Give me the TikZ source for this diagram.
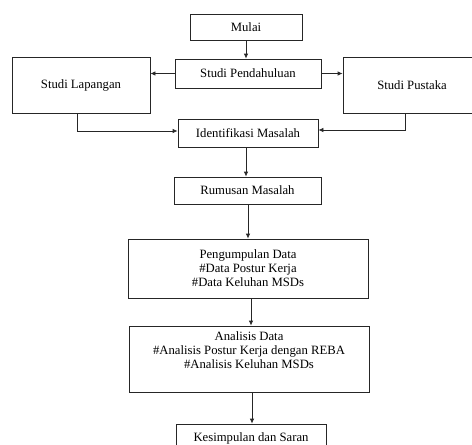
\documentclass[tikz,border=0pt]{standalone}
\usepackage{fontspec}
\setmainfont{Liberation Serif}
\usetikzlibrary{arrows.meta}
\begin{document}
\begin{tikzpicture}[x=1pt,y=-1pt,
  box/.style={draw=black!85,line width=0.8pt,rectangle,inner sep=0pt,align=center,
    font=\fontsize{12.7}{14}\selectfont},
  arr/.style={draw=black!85,line width=0.8pt,-{Latex[length=5pt,width=4.5pt]}}]
\useasboundingbox (0,0) rectangle (472,445);
\clip (0,0) rectangle (472,445);
\fill[white] (0,0) rectangle (472,445);
\node[box,minimum width=112pt,minimum height=26pt] (mulai) at (246,27) {Mulai};
\node[box,minimum width=146pt,minimum height=29pt] (pend) at (248,73.5) {Studi Pendahuluan};
\node[box,minimum width=138pt,minimum height=56pt] (lap) at (81,85) {Studi Lapangan};
\node[box,minimum width=138pt,minimum height=56pt] (pus) at (412,85) {Studi Pustaka};
\node[box,minimum width=140pt,minimum height=28pt] (ident) at (248,133) {Identifikasi Masalah};
\node[box,minimum width=147pt,minimum height=27pt] (rum) at (247.5,190.5) {Rumusan Masalah};
\node[box,minimum width=240pt,minimum height=59pt] (peng) at (248,268.5) {Pengumpulan Data\\\#Data Postur Kerja\\\#Data Keluhan MSDs};
\node[box,minimum width=240pt,minimum height=66pt] (anal) at (249,359) {Analisis Data\\\#Analisis Postur Kerja dengan REBA\\\#Analisis Keluhan MSDs\\\strut};
\node[box,minimum width=150pt,minimum height=28pt] (kes) at (251,438) {Kesimpulan dan Saran};
\draw[arr] (mulai.south) -- (mulai.south |- pend.north);
\draw[arr] (pend.west) -- (pend.west -| lap.east);
\draw[arr] (pend.east) -- (pend.east -| pus.west);
\draw[arr] ([xshift=-4pt]lap.south) |- ([yshift=2pt]ident.west);
\draw[arr] ([xshift=-7pt]pus.south) |- ([yshift=3pt]ident.east);
\draw[arr] (ident.south -| 246,0) -- (rum.north -| 246,0);
\draw[arr] (rum.south -| 248,0) -- (peng.north -| 248,0);
\draw[arr] (peng.south -| 251,0) -- (anal.north -| 251,0);
\draw[arr] (anal.south -| 252,0) -- (kes.north -| 252,0);
\end{tikzpicture}
\end{document}
